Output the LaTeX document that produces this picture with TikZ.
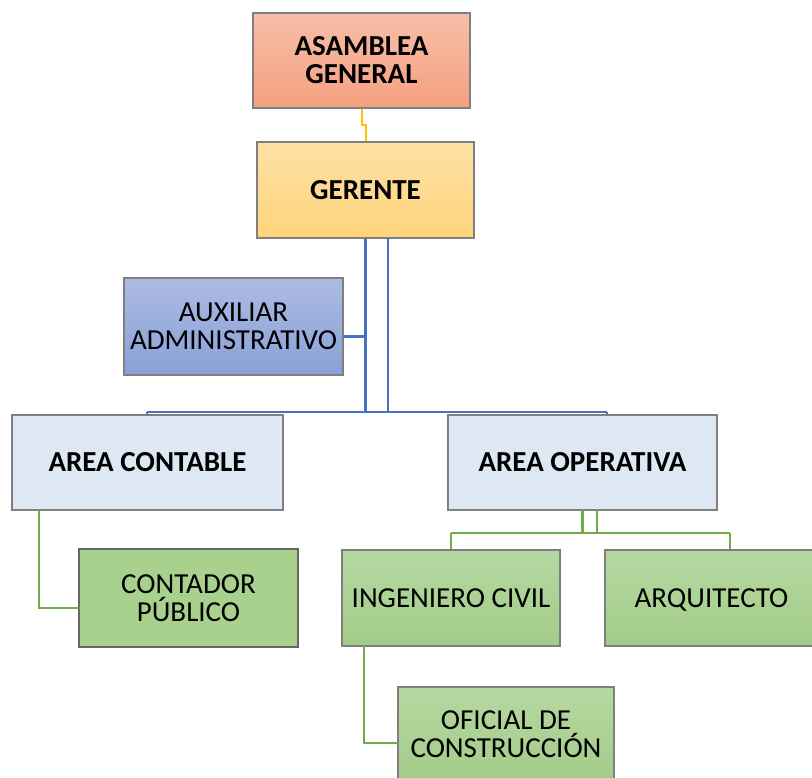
\documentclass[tikz,border=0pt]{standalone}
\usepackage{fontspec}
\setmainfont{Carlito}
\usetikzlibrary{calc}
\definecolor{asamTop}{HTML}{F8BEA7}
\definecolor{asamBot}{HTML}{F4A080}
\definecolor{gerTop}{HTML}{FEE1A6}
\definecolor{gerBot}{HTML}{FFD47A}
\definecolor{auxTop}{HTML}{ACBBE2}
\definecolor{auxBot}{HTML}{88A1D8}
\definecolor{areaFill}{HTML}{DEE8F4}
\definecolor{grTop}{HTML}{B6D8A2}
\definecolor{grBot}{HTML}{A2CC88}
\definecolor{grFlat}{HTML}{A9D18E}
\definecolor{boxGray}{HTML}{7F7F7F}
\definecolor{lnYellow}{HTML}{FFC000}
\definecolor{lnBlue}{HTML}{4472C4}
\definecolor{lnGreen}{HTML}{70AD47}
\tikzset{
  orgbox/.style={draw=boxGray, line width=1.2pt, inner sep=0pt, align=center,
    font=\fontsize{29}{28}\selectfont},
  boldbox/.style={orgbox, font=\fontsize{29}{28}\selectfont\bfseries},
  yline/.style={draw=lnYellow, line width=2pt},
  bline/.style={draw=lnBlue, line width=2pt},
  bthick/.style={draw=lnBlue, line width=3pt},
  gline/.style={draw=lnGreen, line width=2.2pt},
}
\begin{document}
\begin{tikzpicture}[x=1pt,y=-1pt]
\useasboundingbox (0,0) rectangle (812,778);
% connector bend points
\coordinate (ybend) at (0,125);
\coordinate (auxc) at (343,337);
\coordinate (bus) at (0,412);
\coordinate (bleft) at (147,412);
\coordinate (bright) at (607,412);
\coordinate (g2top) at (388,238);
\coordinate (gbus) at (0,533);
\coordinate (gleft) at (451,533);
\coordinate (gright) at (730,533);
\coordinate (o2) at (597,510);
\coordinate (contc) at (79,608);
\coordinate (cline) at (39,510);
\coordinate (ingc) at (364,646);
\coordinate (ofic) at (398,743);

% boxes
\node[boldbox, top color=asamTop, bottom color=asamBot, minimum width=217, minimum height=95] (asam) at (361.5,60.5) {ASAMBLEA\\GENERAL};
\node[boldbox, top color=gerTop, bottom color=gerBot, minimum width=217, minimum height=96] (ger) at (365.5,190) {GERENTE};
\node[orgbox, top color=auxTop, bottom color=auxBot, minimum width=219, minimum height=97] (aux) at (233.5,326.5) {AUXILIAR\\ADMINISTRATIVO};
\node[boldbox, fill=areaFill, minimum width=271, minimum height=95] (cont) at (147.5,462.5) {AREA CONTABLE};
\node[boldbox, fill=areaFill, minimum width=269, minimum height=95] (oper) at (582.5,462.5) {AREA OPERATIVA};
\node[orgbox, draw=black!60, fill=grFlat, minimum width=219, minimum height=98] (contador) at (188.5,598) {CONTADOR\\PÚBLICO};
\node[orgbox, top color=grTop, bottom color=grBot, minimum width=218, minimum height=96] (ing) at (451,598) {INGENIERO CIVIL};
\node[orgbox, top color=grTop, bottom color=grBot, minimum width=213, minimum height=96, text depth=0pt] (arq) at (711.5,598) {ARQUITECTO};
\node[orgbox, top color=grTop, bottom color=grBot, minimum width=216, minimum height=94] (ofi) at (506,734) {OFICIAL DE\\CONSTRUCCIÓN};

% yellow
\draw[yline] (asam.south) |- (asam.south |- ybend) -| (ger.north);
% blue
\draw[bthick] (ger.south) |- (auxc) -- (aux.east |- auxc);
\draw[bthick] (ger.south) -- (ger.south |- bus);
\draw[bline] (g2top) -- (g2top |- bus);
\draw[bline] (bleft) -- (bright);
\draw[bline] (bleft) -- (bleft |- cont.north);
\draw[bline] (bright) -- (bright |- oper.north);
% green
\draw[gline] (oper.south) -- (oper.south |- gbus);
\draw[gline] (o2) -- (o2 |- gbus);
\draw[gline] (gleft) -- (gright);
\draw[gline] (gleft) -- (ing.north);
\draw[gline] (gright) -- (gright |- arq.north);
\draw[gline] (cline) |- (contc) -- (contador.west |- contc);
\draw[gline] (ingc) |- (ofic) -- (ofi.west |- ofic);
\end{tikzpicture}
\end{document}
